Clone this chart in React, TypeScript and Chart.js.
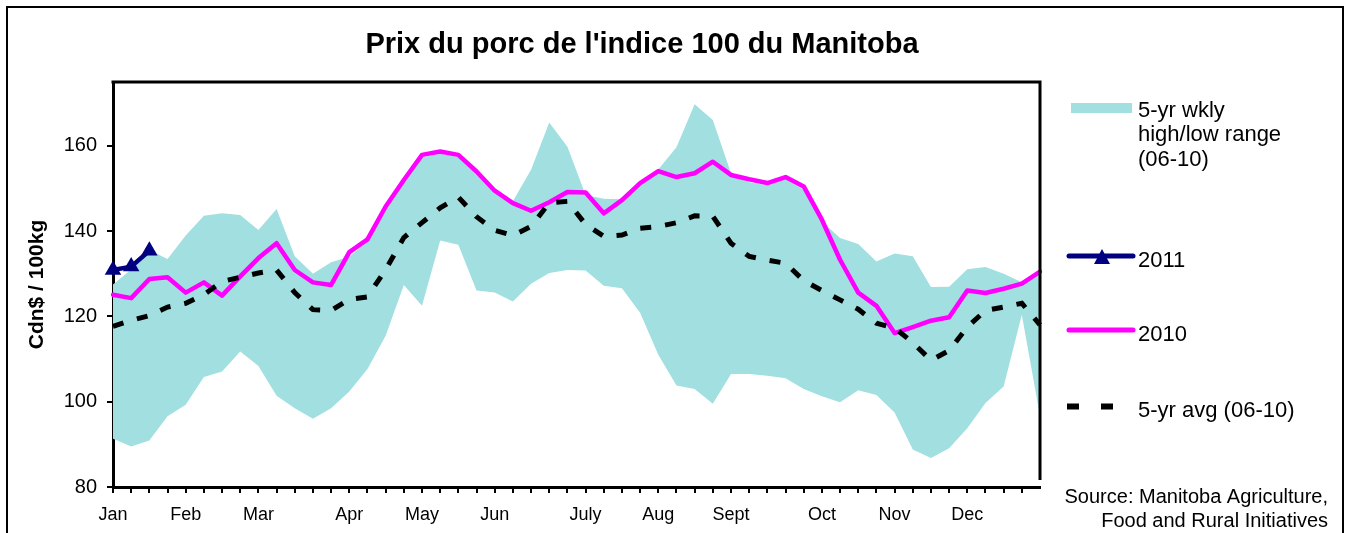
import React, { useEffect, useRef } from 'react';
import { Chart, registerables } from 'chart.js';

Chart.register(...registerables);

const FONT = "'Liberation Sans', Arial, Helvetica, sans-serif";

// 52 weekly categories; month names shown at the first week of each month
const weekLabels = [
  'Jan', '', '', '', 'Feb', '', '', '', 'Mar', '', '', '', '', 'Apr', '', '', '', 'May', '', '', '',
  'Jun', '', '', '', '', 'July', '', '', '', 'Aug', '', '', '', 'Sept', '', '', '', '', 'Oct', '', '', '',
  'Nov', '', '', '', 'Dec', '', '', '', '',
];

const rangeHigh = [
  127.5, 131.0, 135.6, 133.5, 139.0, 143.6, 144.2, 143.8, 140.3, 145.2,
  134.1, 130.0, 132.7, 134.0, 137.5, 145.0, 151.5, 157.3, 158.2, 157.4,
  153.5, 149.0, 147.0, 154.4, 165.5, 159.8, 148.5, 147.6, 147.5, 151.0,
  154.5, 159.7, 169.8, 166.1, 153.6, 151.5, 150.8, 152.2, 149.8, 142.3,
  138.4, 137.0, 132.9, 134.8, 134.1, 126.9, 127.0, 131.1, 131.6, 130.0,
  128.0, 130.2,
];

const rangeLow = [
  91.3, 89.5, 90.9, 96.6, 99.3, 105.8, 107.1, 111.8, 108.4, 101.4,
  98.5, 96.0, 98.5, 102.4, 107.7, 115.5, 127.4, 122.5, 137.8, 136.8,
  126.1, 125.6, 123.5, 127.7, 130.2, 130.9, 130.8, 127.2, 126.6, 120.9,
  111.0, 103.8, 103.0, 99.5, 106.5, 106.5, 106.1, 105.5, 103.0, 101.3,
  99.9, 102.7, 101.6, 97.5, 88.8, 86.8, 89.1, 93.8, 99.7, 103.6,
  120.4, 96.6,
];

const price2011 = [130.9, 131.7, 135.4];

const price2010 = [
  125.1, 124.3, 128.8, 129.2, 125.6, 128.0, 124.9, 129.4, 133.7, 137.2,
  130.9, 128.0, 127.4, 135.1, 138.1, 145.8, 152.0, 157.9, 158.7, 157.9,
  154.0, 149.5, 146.6, 144.8, 146.8, 149.2, 149.1, 144.2, 147.3, 151.3,
  154.1, 152.7, 153.6, 156.3, 153.2, 152.2, 151.3, 152.7, 150.5, 142.7,
  133.3, 125.6, 122.5, 116.1, 117.5, 119.0, 119.8, 126.1, 125.5, 126.5,
  127.7, 130.5,
];

const avg5yr = [
  117.7, 119.1, 120.2, 122.2, 123.1, 125.1, 128.2, 129.2, 130.2, 130.9,
  125.6, 121.6, 121.4, 124.0, 124.6, 131.0, 138.5, 142.0, 145.5, 148.0,
  143.4, 140.2, 139.0, 141.1, 146.7, 147.0, 141.6, 138.8, 139.1, 140.7,
  141.1, 142.0, 143.6, 143.5, 137.2, 134.1, 133.2, 132.5, 128.4, 126.1,
  123.9, 121.7, 118.4, 117.3, 113.9, 109.7, 112.0, 117.5, 121.4, 122.2,
  123.1, 118.0,
];

const yTicks = [80, 100, 120, 140, 160];

const chartTitle = "Prix du porc de l'indice 100 du Manitoba";
const yAxisTitle = 'Cdn$ / 100kg';
const rangeLegendLines = ['5-yr wkly', 'high/low range', '(06-10)'];
const label2011 = '2011';
const label2010 = '2010';
const labelAvg = '5-yr avg (06-10)';
const sourceLines = ['Source: Manitoba Agriculture,', 'Food and Rural Initiatives'];

const CYAN = '#a1dfe0';
const MAGENTA = '#ff00ff';
const NAVY = '#000080';

const decorations = {
  id: 'decorations',
  afterDraw(chart: any) {
    const { ctx, chartArea } = chart;
    ctx.save();
    // outer frame
    ctx.strokeStyle = '#000';
    ctx.lineWidth = 2;
    ctx.beginPath();
    ctx.moveTo(7, 560);
    ctx.lineTo(7, 7);
    ctx.lineTo(1343, 7);
    ctx.lineTo(1343, 560);
    ctx.stroke();

    // plot area top and right border
    ctx.lineWidth = 3;
    ctx.beginPath();
    ctx.moveTo(chartArea.left - 1.5, chartArea.top);
    ctx.lineTo(chartArea.right, chartArea.top);
    ctx.lineTo(chartArea.right, chartArea.bottom - 7);
    ctx.stroke();

    // title
    ctx.fillStyle = '#000';
    ctx.font = `bold 29px ${FONT}`;
    ctx.textAlign = 'center';
    ctx.textBaseline = 'alphabetic';
    ctx.fillText(chartTitle, 642, 53);

    // legend
    const lx = 1138;
    ctx.font = `22px ${FONT}`;
    ctx.textAlign = 'left';
    ctx.fillStyle = CYAN;
    ctx.fillRect(1071, 103, 61, 10);
    ctx.fillStyle = '#000';
    rangeLegendLines.forEach((t, i) => ctx.fillText(t, lx, 116.7 + i * 24.5));

    // 2011
    ctx.strokeStyle = NAVY;
    ctx.lineWidth = 5;
    ctx.lineCap = 'round';
    ctx.beginPath();
    ctx.moveTo(1069, 256);
    ctx.lineTo(1133, 256);
    ctx.stroke();
    ctx.fillStyle = NAVY;
    ctx.beginPath();
    ctx.moveTo(1102, 249);
    ctx.lineTo(1110, 264);
    ctx.lineTo(1094, 264);
    ctx.closePath();
    ctx.fill();
    ctx.fillStyle = '#000';
    ctx.fillText(label2011, lx, 266.7);

    // 2010
    ctx.strokeStyle = MAGENTA;
    ctx.beginPath();
    ctx.moveTo(1069, 330);
    ctx.lineTo(1133, 330);
    ctx.stroke();
    ctx.fillText(label2010, lx, 341);

    // avg
    ctx.fillStyle = '#000';
    ctx.fillRect(1067, 403.5, 12, 6);
    ctx.fillRect(1101, 403.5, 12, 6);
    ctx.fillText(labelAvg, lx, 416.5);

    // source
    ctx.font = `20px ${FONT}`;
    ctx.textAlign = 'right';
    ctx.fillText(sourceLines[0], 1328, 503);
    ctx.fillText(sourceLines[1], 1328, 527);
    ctx.restore();
  },
};

export default function App() {
  const ref = useRef<HTMLCanvasElement | null>(null);

  useEffect(() => {
    if (!ref.current) return;
    const chart = new Chart(ref.current, {
      type: 'line',
      data: {
        labels: weekLabels,
        datasets: [
          {
            label: 'high',
            data: rangeHigh,
            borderColor: 'rgba(0,0,0,0)',
            borderWidth: 0,
            pointRadius: 0,
            backgroundColor: CYAN,
            fill: '+1',
            order: 5,
          },
          {
            label: 'low',
            data: rangeLow,
            borderColor: 'rgba(0,0,0,0)',
            borderWidth: 0,
            pointRadius: 0,
            backgroundColor: CYAN,
            fill: false,
            order: 4,
          },
          {
            label: label2011,
            data: price2011,
            borderColor: NAVY,
            borderWidth: 4.5,
            borderJoinStyle: 'round',
            borderCapStyle: 'round',
            pointStyle: 'triangle',
            pointRadius: 9.5,
            pointBackgroundColor: NAVY,
            pointBorderColor: NAVY,
            pointBorderWidth: 0,
            fill: false,
            order: 2,
          },
          {
            label: label2010,
            data: price2010,
            borderColor: MAGENTA,
            borderWidth: 4.5,
            borderJoinStyle: 'round',
            borderCapStyle: 'round',
            pointRadius: 0,
            fill: false,
            order: 1,
          },
          {
            label: labelAvg,
            data: avg5yr,
            borderColor: '#000',
            borderWidth: 5,
            borderDash: [11, 14],
            borderCapStyle: 'butt',
            pointRadius: 0,
            fill: false,
            order: 0,
          },
        ],
      },
      options: {
        responsive: false,
        animation: false,
        events: [],
        layout: { padding: { left: 0, top: 82, right: 306, bottom: 0 } },
        plugins: {
          legend: { display: false },
          title: { display: false },
          tooltip: { enabled: false },
        },
        elements: { line: { tension: 0 } },
        scales: {
          x: {
            type: 'category',
            offset: false,
            afterFit: (s: any) => { s.height = 46; },
            border: { display: true, color: '#000', width: 3 },
            grid: {
              display: true,
              drawOnChartArea: false,
              drawTicks: true,
              tickLength: 6,
              lineWidth: 2,
              color: '#000',
              tickColor: (c: any) => (c.index === weekLabels.length - 1 ? 'rgba(0,0,0,0)' : '#000'),
            },
            ticks: {
              autoSkip: false,
              maxRotation: 0,
              minRotation: 0,
              padding: 11,
              color: '#000',
              font: { family: FONT, size: 18 },
            },
          },
          y: {
            min: 80,
            max: 175,
            afterFit: (s: any) => { s.width = 113; },
            afterBuildTicks: (s: any) => {
              s.ticks = yTicks.map((v) => ({ value: v }));
            },
            border: { display: true, color: '#000', width: 3 },
            grid: {
              display: true,
              drawOnChartArea: false,
              drawTicks: true,
              tickLength: 6,
              lineWidth: 2,
              color: '#000',
            },
            ticks: {
              padding: 10,
              color: '#000',
              font: { family: FONT, size: 20 },
            },
            title: {
              display: true,
              text: yAxisTitle,
              color: '#000',
              font: { family: FONT, size: 21, weight: 'bold' },
              padding: { top: 25, bottom: 0 },
            },
          },
        },
      },
      plugins: [decorations],
    } as any);
    return () => chart.destroy();
  }, []);

  return (
    <div style={{ position: 'fixed', left: 0, top: 0, width: 1346, height: 533, background: '#fff' }}>
      <canvas ref={ref} width={1346} height={533} style={{ width: 1346, height: 533, display: 'block' }} />
    </div>
  );
}
